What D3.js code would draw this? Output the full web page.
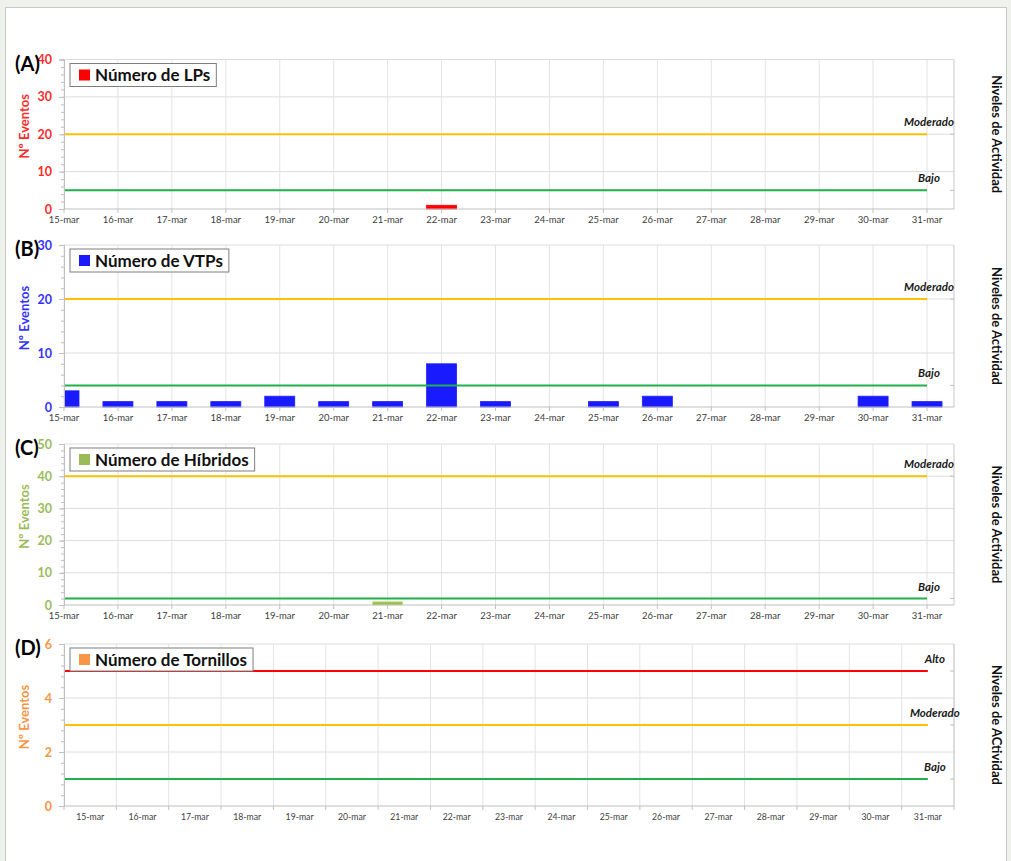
<!DOCTYPE html>
<html>
<head>
<meta charset="utf-8">
<script src="https://cdn.jsdelivr.net/npm/d3@7"></script>
<style>
  body { margin: 0; background: #eef1ec; }
  svg { display: block; font-family: Lato, "Noto Sans", sans-serif; }
</style>
</head>
<body>
<svg></svg>
<script>
// categories and values
const dates = ["15-mar", "16-mar", "17-mar", "18-mar", "19-mar", "20-mar", "21-mar", "22-mar",
  "23-mar", "24-mar", "25-mar", "26-mar", "27-mar", "28-mar", "29-mar", "30-mar", "31-mar"];
const lpValues = [0, 0, 0, 0, 0, 0, 0, 1, 0, 0, 0, 0, 0, 0, 0, 0, 0];
const vtpValues = [3, 1, 1, 1, 2, 1, 1, 8, 1, 0, 1, 2, 0, 0, 0, 2, 1];
const hibValues = [0, 0, 0, 0, 0, 0, 1, 0, 0, 0, 0, 0, 0, 0, 0, 0, 0];
const tornValues = [0, 0, 0, 0, 0, 0, 0, 0, 0, 0, 0, 0, 0, 0, 0, 0, 0];

const lpLevels = [{ name: "Moderado", value: 20 }, { name: "Bajo", value: 5 }];
const vtpLevels = [{ name: "Moderado", value: 20 }, { name: "Bajo", value: 4 }];
const hibLevels = [{ name: "Moderado", value: 40 }, { name: "Bajo", value: 2 }];
const tornLevels = [{ name: "Alto", value: 5 }, { name: "Moderado", value: 3 }, { name: "Bajo", value: 1 }];

const levelColor = { Alto: "#ff0000", Moderado: "#ffc000", Bajo: "#1fb04e" };

const panels = [
  { letter: "(A)", legend: "Número de LPs", values: lpValues, levels: lpLevels, yMax: 40, step: 10, minor: 2,
    color: "#ff0000", labelColor: "#ff2a2a", top: 59.5, bottom: 209, side: "Niveles de Actividad", band: false },
  { letter: "(B)", legend: "Número de VTPs", values: vtpValues, levels: vtpLevels, yMax: 30, step: 10, minor: 2,
    color: "#1a1aff", labelColor: "#3333ff", top: 245, bottom: 407, side: "Niveles de Actividad", band: false },
  { letter: "(C)", legend: "Número de Híbridos", values: hibValues, levels: hibLevels, yMax: 50, step: 10, minor: 2,
    color: "#9bbb59", labelColor: "#9bbb59", top: 444, bottom: 605, side: "Niveles de Actividad", band: false },
  { letter: "(D)", legend: "Número de Tornillos", values: tornValues, levels: tornLevels, yMax: 6, step: 2, minor: 0.4,
    color: "#f79646", labelColor: "#f79646", top: 644, bottom: 806, side: "Niveles de ACtividad", band: true }
];

const svgWidth = 1011, svgHeight = 861;
const left = 64, right = 954;

const svg = d3.select("svg")
  .attr("width", svgWidth)
  .attr("height", svgHeight);

// page frame
svg.append("rect")
  .attr("x", 5.5).attr("y", 7.5)
  .attr("width", 1001).attr("height", 870)
  .attr("fill", "#fff")
  .attr("stroke", "#c6cac6");

panels.forEach(p => {
  const g = svg.append("g");

  const y = d3.scaleLinear()
    .domain([0, p.yMax])
    .range([p.bottom, p.top]);

  // x: points for A-C, bands for D
  let xPos, gridX, lineEnd;
  if (p.band) {
    const x = d3.scaleBand().domain(dates).range([left, right]);
    xPos = d => x(d) + x.bandwidth() / 2;
    gridX = dates.map(d => x(d)).concat([right]);
  } else {
    const x = d3.scaleLinear().domain([0, dates.length - 0.5]).range([left, right]);
    xPos = d => x(dates.indexOf(d));
    gridX = dates.map(d => xPos(d));
  }
  lineEnd = xPos(dates[dates.length - 1]);

  const yTicks = d3.range(0, p.yMax + p.step / 2, p.step);
  const yMinor = d3.range(0, p.yMax + p.minor / 2, p.minor);

  // gridlines
  g.selectAll(".hgrid")
    .data(yTicks.filter(v => v > 0))
    .join("line")
    .attr("x1", left).attr("x2", right)
    .attr("y1", d => y(d)).attr("y2", d => y(d))
    .attr("stroke", "#dcdcdc");

  g.selectAll(".vgrid")
    .data(gridX)
    .join("line")
    .attr("x1", d => d).attr("x2", d => d)
    .attr("y1", p.top).attr("y2", p.bottom)
    .attr("stroke", "#e3e3e3");

  // right edge with level ticks
  g.append("line")
    .attr("x1", right).attr("x2", right)
    .attr("y1", p.top).attr("y2", p.bottom)
    .attr("stroke", "#c8c8c8");
  g.selectAll(".rtick")
    .data(p.levels)
    .join("line")
    .attr("x1", right - 4).attr("x2", right)
    .attr("y1", d => y(d.value)).attr("y2", d => y(d.value))
    .attr("stroke", "#bdbdbd");

  // bars
  const barW = 30;
  g.selectAll(".bar")
    .data(p.values.map((v, i) => ({ date: dates[i], value: v })).filter(d => d.value > 0))
    .join("rect")
    .attr("x", d => Math.max(left + 0.5, xPos(d.date) - barW / 2))
    .attr("width", d => xPos(d.date) + barW / 2 - Math.max(left + 0.5, xPos(d.date) - barW / 2))
    .attr("y", d => y(d.value))
    .attr("height", d => y(0) - y(d.value))
    .attr("fill", p.color)
    .attr("stroke", d3.color(p.color).brighter(0.6))
    .attr("stroke-width", 0.8);

  // level lines
  g.selectAll(".level")
    .data(p.levels)
    .join("line")
    .attr("x1", left).attr("x2", lineEnd)
    .attr("y1", d => y(d.value)).attr("y2", d => y(d.value))
    .attr("stroke", d => levelColor[d.name])
    .attr("stroke-width", 2);

  g.selectAll(".levelLabel")
    .data(p.levels)
    .join("text")
    .attr("x", lineEnd + (p.band ? 7 : 2))
    .attr("y", d => y(d.value) - 8)
    .attr("text-anchor", "middle")
    .attr("font-size", 11.5)
    .attr("font-weight", "bold")
    .attr("font-style", "italic")
    .attr("fill", "#1a1a1a")
    .text(d => d.name);

  // x axis
  g.append("line")
    .attr("x1", left).attr("x2", right)
    .attr("y1", p.bottom).attr("y2", p.bottom)
    .attr("stroke", "#bfbfbf");
  g.selectAll(".xtick")
    .data(gridX)
    .join("line")
    .attr("x1", d => d).attr("x2", d => d)
    .attr("y1", p.bottom).attr("y2", p.bottom + 4)
    .attr("stroke", "#bfbfbf");
  g.selectAll(".xlabel")
    .data(dates)
    .join("text")
    .attr("x", d => xPos(d))
    .attr("y", p.bottom + (p.band ? 14 : 14))
    .attr("text-anchor", "middle")
    .attr("font-size", p.band ? 8.7 : 9.5)
    .attr("fill", "#404040")
    .text(d => d);

  // y axis
  const yAxis = g.append("g")
    .attr("transform", "translate(" + left + ",0)")
    .call(d3.axisLeft(y).tickValues(yTicks).tickSize(5).tickPadding(7).tickFormat(d3.format("d")));
  yAxis.select(".domain").attr("stroke", "#bfbfbf");
  yAxis.selectAll(".tick line").attr("stroke", "#bfbfbf");
  yAxis.selectAll(".tick text")
    .attr("fill", p.labelColor)
    .attr("font-size", 12.5)
    .attr("font-weight", "bold")
    .attr("font-family", "Lato, sans-serif");

  g.append("g")
    .attr("transform", "translate(" + left + ",0)")
    .call(d3.axisLeft(y).tickValues(yMinor).tickSize(3).tickFormat(""))
    .call(a => a.select(".domain").remove())
    .selectAll(".tick line").attr("stroke", "#bfbfbf");

  // y title
  g.append("text")
    .attr("transform", "translate(29," + ((p.top + p.bottom) / 2 - 8) + ") rotate(-90)")
    .attr("text-anchor", "middle")
    .attr("font-size", 13)
    .attr("font-weight", "bold")
    .attr("fill", p.labelColor)
    .text("Nº Eventos");

  // side title
  g.append("text")
    .attr("transform", "translate(992," + ((p.top + p.bottom) / 2) + ") rotate(90)")
    .attr("text-anchor", "middle")
    .attr("font-size", 13)
    .attr("font-weight", "bold")
    .attr("fill", "#111")
    .text(p.side);

  // panel letter
  g.append("text")
    .attr("x", 15)
    .attr("y", p.top + 11)
    .attr("font-size", 20)
    .attr("font-weight", "bold")
    .attr("fill", "#000")
    .text(p.letter);

  // legend box
  const lg = g.append("g")
    .attr("transform", "translate(70," + (p.top + 4) + ")");
  const box = lg.append("rect")
    .attr("y", 0).attr("height", 23)
    .attr("fill", "#fff")
    .attr("stroke", "#7f7f7f");
  lg.append("rect")
    .attr("x", 9).attr("y", 6)
    .attr("width", 11).attr("height", 11)
    .attr("fill", p.color);
  const t = lg.append("text")
    .attr("x", 25).attr("y", 17.5)
    .attr("font-size", 17)
    .attr("font-weight", "bold")
    .attr("fill", "#111")
    .text(p.legend);
  box.attr("width", t.node().getComputedTextLength() + 31);
});
</script>
</body>
</html>
